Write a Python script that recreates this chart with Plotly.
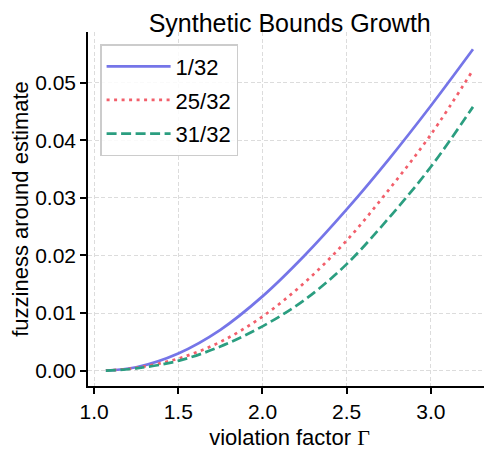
import plotly.graph_objects as go

# violation factor Gamma and the fuzziness
gamma = [1.07, 1.25, 1.5, 1.75, 2.0, 2.25, 2.5, 2.75, 3.0, 3.25]
fuzz_1_32 = [0.0, 0.0006, 0.0030, 0.0071, 0.0129, 0.0200, 0.0280, 0.0367, 0.0460, 0.0558]
fuzz_25_32 = [0.0, 0.0005, 0.0021, 0.0050, 0.0094, 0.0153, 0.0226, 0.0314, 0.0410, 0.0522]
fuzz_31_32 = [0.0, 0.0004, 0.0017, 0.0042, 0.0077, 0.0123, 0.0185, 0.0265, 0.0354, 0.0458]

labels = ["1/32", "25/32", "31/32"]
x_ticks = [1.0, 1.5, 2.0, 2.5, 3.0]
y_ticks = [0.00, 0.01, 0.02, 0.03, 0.04, 0.05]

font = "Liberation Sans, Arial, sans-serif"

fig = go.Figure()
styles = [
    ("#7575e8", "solid"),
    ("#f25f6b", "3px,4.5px"),
    ("#2b9e80", "10px,4.5px"),
]
for ys, name, (col, dash) in zip([fuzz_1_32, fuzz_25_32, fuzz_31_32], labels, styles):
    fig.add_trace(go.Scatter(
        x=gamma, y=ys, name=name, mode="lines", legendgroup=name,
        line=dict(color=col, width=2.7, dash=dash, shape="spline", smoothing=1.0),
    ))

axis_common = dict(
    showline=True, linecolor="black", linewidth=1.5,
    ticks="outside", ticklen=6, tickwidth=1.5, tickcolor="black",
    showgrid=True, gridcolor="#dcdcdc", gridwidth=1, griddash="4px,2.5px",
    zeroline=False, mirror=False,
    tickfont=dict(family=font, size=21, color="black"),
)

fig.update_xaxes(
    range=[0.964, 3.357], tickvals=x_ticks, ticktext=[f"{v:.1f}" for v in x_ticks],
    title=dict(text='violation factor <span style="font-family:Liberation Serif">Γ</span>',
               font=dict(family=font, size=22, color="black"), standoff=8),
    **axis_common,
)
fig.update_yaxes(
    range=[-0.00266, 0.0588], tickvals=y_ticks, ticktext=[f"{v:.2f}" for v in y_ticks],
    title=dict(text="fuzziness around estimate",
               font=dict(family=font, size=22, color="black"), standoff=8),
    **axis_common,
)

# the page puts the figure 8px in from the top-left corner, so size it to fit
fig.update_layout(
    width=484, height=444,
    margin=dict(l=80, r=1, t=24, b=66),
    paper_bgcolor="white", plot_bgcolor="white",
    title=dict(text="Synthetic Bounds Growth", x=0.582, xanchor="center",
               y=0.986, yanchor="top",
               font=dict(family=font, size=25, color="black")),
    legend=dict(x=0.03, y=0.966, xanchor="left", yanchor="top",
                bgcolor="rgba(255,255,255,0.85)", bordercolor="#cccccc", borderwidth=1.5,
                font=dict(family=font, size=22, color="black"),
                itemwidth=64, tracegroupgap=2),
    showlegend=True,
)

fig.write_html("out.html")
